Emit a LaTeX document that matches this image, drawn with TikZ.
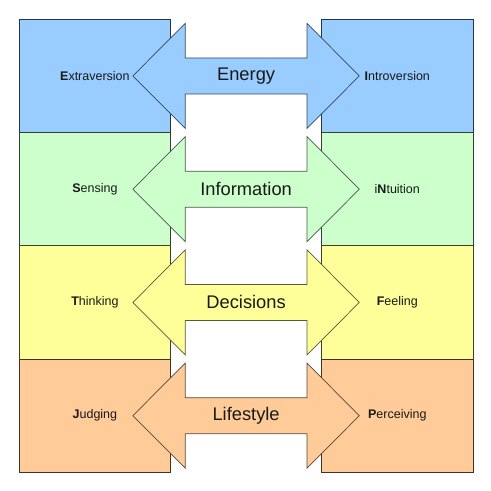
\documentclass[tikz,border=0pt]{standalone}
\usepackage{fontspec}
\setmainfont{Liberation Sans}
\usetikzlibrary{positioning, calc}
\definecolor{EnergyBlue}{RGB}{153,204,255}
\definecolor{InfoGreen}{RGB}{204,255,204}
\definecolor{DecisionYellow}{RGB}{255,255,153}
\definecolor{LifeOrange}{RGB}{255,204,153}
\tikzset{
  trait/.style={draw=#1!25!black, fill=#1, minimum width=151.2pt,
    minimum height=113.25pt, inner sep=0pt, outer sep=0pt, line width=0.7pt,
    text=black!90, font=\fontsize{12.5}{14}\selectfont},
  flow/.style={draw=#1!35!black, fill=#1, line width=0.7pt, line join=miter},
  flowlabel/.style={text=black!90, font=\fontsize{18.3}{21}\selectfont}
}

\begin{document}
\begin{tikzpicture}[x=1pt,y=-1pt]
  \useasboundingbox (0,0) rectangle (491,491);
  % preference boxes, left and right
  \node[trait=EnergyBlue] (extra) at (94.9,75.9) {\textbf{E}xtraversion};
  \node[trait=EnergyBlue, right=151.2pt of extra] (intro) {\textbf{I}ntroversion};
  \node[trait=InfoGreen, below=0pt of extra] (sens) {\textbf{S}ensing};
  \node[trait=InfoGreen, below=0pt of intro] (intu) {i\textbf{N}tuition};
  \node[trait=DecisionYellow, below=0pt of sens] (think) {\textbf{T}hinking};
  \node[trait=DecisionYellow, below=0pt of intu] (feel) {\textbf{F}eeling};
  \node[trait=LifeOrange, below=0pt of think] (judge) {\textbf{J}udging};
  \node[trait=LifeOrange, below=0pt of feel] (perc) {\textbf{P}erceiving};
  % centres of the double arrows
  \coordinate (energymid) at ($(extra)!0.5!(intro)$);
  \coordinate (infomid) at ($(sens)!0.5!(intu)$);
  \coordinate (decimid) at ($(think)!0.5!(feel)$);
  \coordinate (lifemid) at ($(judge)!0.5!(perc)$);
  % double arrows
  \foreach \m/\col in {energymid/EnergyBlue, infomid/InfoGreen,
      decimid/DecisionYellow, lifemid/LifeOrange}
    \filldraw[flow=\col, shift={(\m)}] (-113.2,0) -- (-60.9,-52.5)
      -- (-60.9,-18) -- (60.9,-18) -- (60.9,-52.5) -- (113.2,0)
      -- (60.9,52.5) -- (60.9,18) -- (-60.9,18) -- (-60.9,52.5) -- cycle;
  \node[flowlabel] (energy) at (energymid) {Energy};
  \node[flowlabel] (info) at (infomid) {Information};
  \node[flowlabel] (deci) at (decimid) {Decisions};
  \node[flowlabel] (life) at (lifemid) {Lifestyle};
\end{tikzpicture}
\end{document}
